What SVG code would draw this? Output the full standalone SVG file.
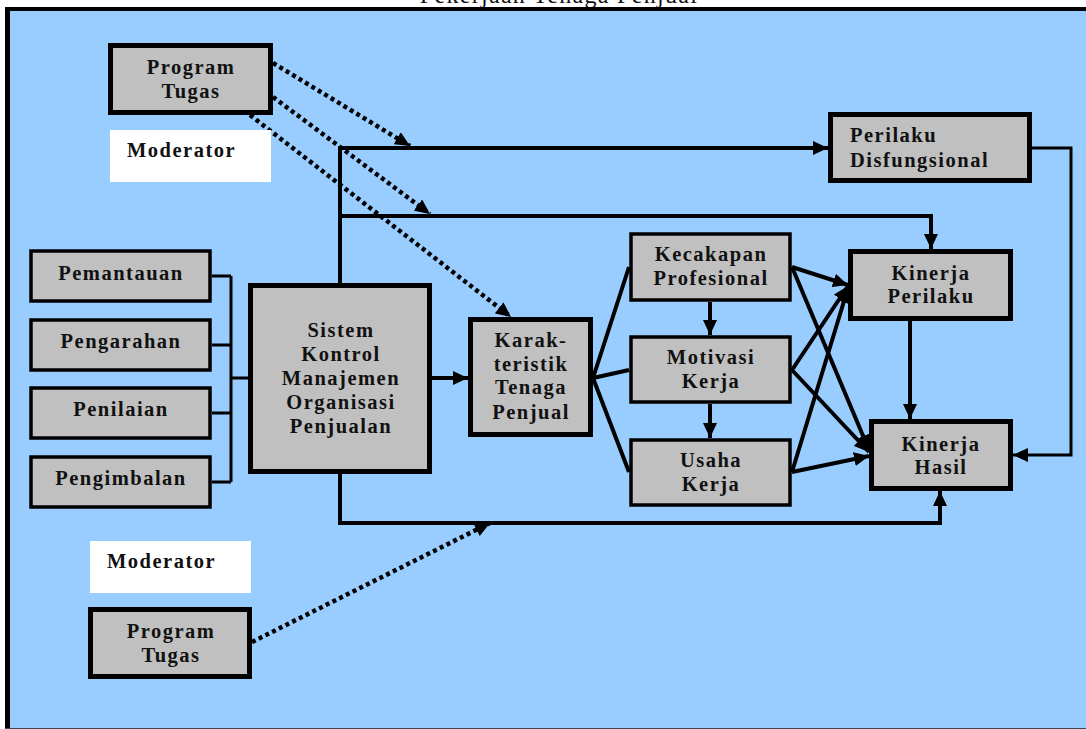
<svg xmlns="http://www.w3.org/2000/svg" width="1086" height="729" viewBox="0 0 1086 729">
  <style>
    .box { fill: #C0C0C0; stroke: #000; stroke-width: 5; }
    .sbox { fill: #C0C0C0; stroke: #000; stroke-width: 3.5; }
    .mod { fill: #FFFFFF; }
    .t { font-family: "Liberation Serif", "Times New Roman", serif; font-weight: bold; font-size: 20.5px; letter-spacing: 1.5px; fill: #111; text-anchor: middle; }
    .tl { text-anchor: start; }
    .title { font-family: "Liberation Serif", "Times New Roman", serif; font-size: 24px; letter-spacing: 1.3px; fill: #111; text-anchor: middle; }
    .ln { fill: none; stroke: #000; stroke-width: 4; }
    .thin { fill: none; stroke: #000; stroke-width: 3; }
    .dot { fill: none; stroke: #000; stroke-width: 4.5; stroke-dasharray: 4 3.5; }
  </style>
  <defs>
    <marker id="ah" markerUnits="userSpaceOnUse" markerWidth="16" markerHeight="14" refX="15" refY="7" orient="auto">
      <path d="M0,0 L15,7 L0,14 Z" fill="#000"/>
    </marker>
  </defs>

  <!-- page and framed panel -->
  <rect x="0" y="0" width="1086" height="729" fill="#FFFFFF"/>
  <text class="title" x="559" y="3">Pekerjaan Tenaga Penjual</text>
  <rect x="5" y="7" width="1081" height="722" fill="#99CCFF"/>
  <rect x="5" y="7" width="1081" height="4" fill="#000"/>
  <rect x="5" y="7" width="5" height="722" fill="#000"/>
  <line x1="5" y1="728.5" x2="1086" y2="728.5" stroke="#3A4A5A" stroke-width="1"/>

  <!-- connectors -->
  <g id="connectors">
    <!-- control elements into the control system -->
    <path class="thin" d="M212 276 H231 M212 345 H231 M212 413 H231 M212 482 H231 M231 276 V482 M231 378 H248"/>
    <!-- control system outputs -->
    <path class="ln" d="M340 283 V148 H828" marker-end="url(#ah)"/>
    <path class="ln" d="M340 216 H931 V249" marker-end="url(#ah)"/>
    <path class="ln" d="M340 474 V523 H940 V491" marker-end="url(#ah)"/>
    <path class="ln" d="M432 378 H468" marker-end="url(#ah)"/>
    <!-- salesperson characteristics fan-out -->
    <path class="ln" d="M593 378 L629 267 M593 378 L629 370 M593 378 L629 472"/>
    <path class="ln" d="M710 302 V335" marker-end="url(#ah)"/>
    <path class="ln" d="M710 404 V438" marker-end="url(#ah)"/>
    <!-- into performance -->
    <path class="ln" d="M792 267 L848 285" marker-end="url(#ah)"/>
    <path class="ln" d="M792 267 L869 450" marker-end="url(#ah)"/>
    <path class="ln" d="M792 370 L848 286" marker-end="url(#ah)"/>
    <path class="ln" d="M792 370 L869 452" marker-end="url(#ah)"/>
    <path class="ln" d="M792 472 L848 288" marker-end="url(#ah)"/>
    <path class="ln" d="M792 472 L869 456" marker-end="url(#ah)"/>
    <path class="ln" d="M910 321 V419" marker-end="url(#ah)"/>
    <path class="thin" d="M1032 148 H1071 V455 H1013" marker-end="url(#ah)"/>
    <!-- moderating effects -->
    <path class="dot" d="M273 63 L410 146" marker-end="url(#ah)"/>
    <path class="dot" d="M273 97 L430 214" marker-end="url(#ah)"/>
    <path class="dot" d="M250 115 L511 317" marker-end="url(#ah)"/>
    <path class="dot" d="M252 642 L490 523" marker-end="url(#ah)"/>
  </g>

  <g id="program-tugas-top">
    <rect class="box" x="110.5" y="45.5" width="160" height="67"/>
    <text class="t" x="191" y="74">Program</text>
    <text class="t" x="191" y="98">Tugas</text>
  </g>
  <g id="moderator-top">
    <rect class="mod" x="110" y="130" width="161" height="52"/>
    <text class="t tl" x="127" y="157">Moderator</text>
  </g>

  <g id="pemantauan">
    <rect class="sbox" x="31" y="251" width="179" height="50"/>
    <text class="t" x="121" y="280">Pemantauan</text>
  </g>
  <g id="pengarahan">
    <rect class="sbox" x="31" y="320" width="179" height="50"/>
    <text class="t" x="121" y="348">Pengarahan</text>
  </g>
  <g id="penilaian">
    <rect class="sbox" x="31" y="388" width="179" height="50"/>
    <text class="t" x="121" y="416">Penilaian</text>
  </g>
  <g id="pengimbalan">
    <rect class="sbox" x="31" y="457" width="179" height="50"/>
    <text class="t" x="121" y="485">Pengimbalan</text>
  </g>

  <g id="sistem-kontrol">
    <rect class="box" x="250.5" y="285.5" width="179" height="186"/>
    <text class="t" x="341" y="337">Sistem</text>
    <text class="t" x="341" y="361">Kontrol</text>
    <text class="t" x="341" y="385">Manajemen</text>
    <text class="t" x="341" y="409">Organisasi</text>
    <text class="t" x="341" y="433">Penjualan</text>
  </g>

  <g id="karakteristik">
    <rect class="box" x="470.5" y="319.5" width="120" height="115"/>
    <text class="t" x="531" y="347">Karak-</text>
    <text class="t" x="531" y="371">teristik</text>
    <text class="t" x="531" y="394">Tenaga</text>
    <text class="t" x="531" y="419">Penjual</text>
  </g>

  <g id="kecakapan">
    <rect class="sbox" x="631" y="234" width="159" height="66"/>
    <text class="t" x="711" y="261">Kecakapan</text>
    <text class="t" x="711" y="285">Profesional</text>
  </g>
  <g id="motivasi">
    <rect class="sbox" x="631" y="337" width="159" height="65"/>
    <text class="t" x="711" y="364">Motivasi</text>
    <text class="t" x="711" y="388">Kerja</text>
  </g>
  <g id="usaha">
    <rect class="sbox" x="631" y="440" width="159" height="65"/>
    <text class="t" x="711" y="467">Usaha</text>
    <text class="t" x="711" y="491">Kerja</text>
  </g>

  <g id="perilaku-disfungsional">
    <rect class="box" x="830.5" y="114.5" width="199" height="66"/>
    <text class="t tl" x="850" y="142">Perilaku</text>
    <text class="t tl" x="850" y="167">Disfungsional</text>
  </g>
  <g id="kinerja-perilaku">
    <rect class="box" x="850.5" y="251.5" width="160" height="67"/>
    <text class="t" x="931" y="280">Kinerja</text>
    <text class="t" x="931" y="303">Perilaku</text>
  </g>
  <g id="kinerja-hasil">
    <rect class="box" x="871.5" y="421.5" width="139" height="67"/>
    <text class="t" x="941" y="451">Kinerja</text>
    <text class="t" x="941" y="474">Hasil</text>
  </g>

  <g id="moderator-bottom">
    <rect class="mod" x="90" y="541" width="161" height="52"/>
    <text class="t tl" x="107" y="568">Moderator</text>
  </g>
  <g id="program-tugas-bottom">
    <rect class="box" x="90.5" y="609.5" width="159" height="67"/>
    <text class="t" x="171" y="638">Program</text>
    <text class="t" x="171" y="662">Tugas</text>
  </g>
</svg>
